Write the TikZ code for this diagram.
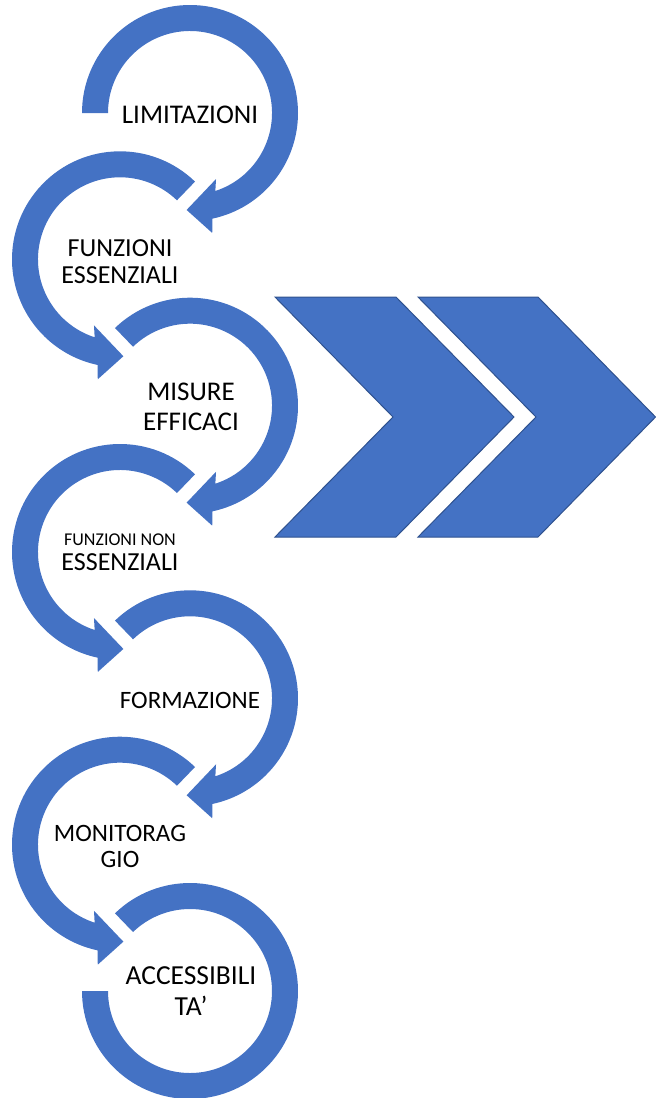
\documentclass[tikz,border=0pt]{standalone}
\usepackage{fontspec}
\setmainfont{Carlito}
\usetikzlibrary{calc}
\definecolor{ringblue}{HTML}{4472C4}
\definecolor{edgeblue}{HTML}{2F528F}
\tikzset{
  ringshape/.style={fill=ringblue, draw=none},
  chevshape/.style={fill=ringblue, draw=edgeblue, line width=1pt, line join=miter},
  lbl/.style={inner sep=0pt, align=center, text=black, font=\fontsize{26}{29}\selectfont},
}
\begin{document}
\begin{tikzpicture}[x=1pt,y=1pt]
\useasboundingbox (0,0) rectangle (656,-1098);
% odd rings (centre x=190), clockwise, arrowhead at bottom
\foreach \cy/\a in {113/180, 405.7/134, 698.3/134}{
  \begin{scope}[shift={(190,-\cy)}]
    \fill[ringshape] (\a:108) arc[start angle=\a, end angle=-78, radius=108]
      -- (-79.5:122) -- (-92:97) -- (-68.5:71) -- (-72:82)
      arc[start angle=-72, end angle=\a, radius=82] -- cycle;
  \end{scope}
}
% even rings (centre x=120), counter-clockwise, arrowhead at bottom
\foreach \cy in {259.3, 552, 844.7}{
  \begin{scope}[shift={(120,-\cy)}]
    \fill[ringshape] (46:108) arc[start angle=46, end angle=258, radius=108]
      -- (259.5:122) -- (272:97) -- (248.5:71) -- (252:82)
      arc[start angle=252, end angle=46, radius=82] -- cycle;
  \end{scope}
}
% last ring, no arrowhead
\begin{scope}[shift={(190,-991)}]
  \fill[ringshape] (134:108) arc[start angle=134, end angle=-180, radius=108]
    -- (180:82) arc[start angle=-180, end angle=134, radius=82] -- cycle;
\end{scope}
% chevrons
\draw[chevshape] (275,-297) -- (396,-297) -- (514,-417) -- (396,-537) -- (275,-537) -- (393,-417) -- cycle;
\draw[chevshape] (418,-297) -- (538,-297) -- (655.5,-417) -- (538,-537) -- (418,-537) -- (536,-417) -- cycle;
% labels
\node[lbl, font=\fontsize{27}{29}\selectfont] (t1) at (190,-115) {LIMITAZIONI};
\node[lbl, font=\fontsize{26}{27}\selectfont] (t2) at (120,-261.5) {FUNZIONI\\ESSENZIALI};
\node[lbl, font=\fontsize{27}{30}\selectfont] (t3) at (191,-407) {MISURE\\EFFICACI};
\node[lbl, font=\fontsize{26}{25}\selectfont] (t4) at (120,-552) {{\fontsize{18}{20}\selectfont FUNZIONI NON}\\ESSENZIALI};
\node[lbl, font=\fontsize{25}{29}\selectfont] (t5) at (190,-700) {FORMAZIONE};
\node[lbl, font=\fontsize{25}{26}\selectfont] (t6) at (120,-846) {MONITORAG\\GIO};
\node[lbl, font=\fontsize{27.5}{31}\selectfont] (t7) at (191,-991.5) {ACCESSIBILI\\TA’};
\end{tikzpicture}
\end{document}
